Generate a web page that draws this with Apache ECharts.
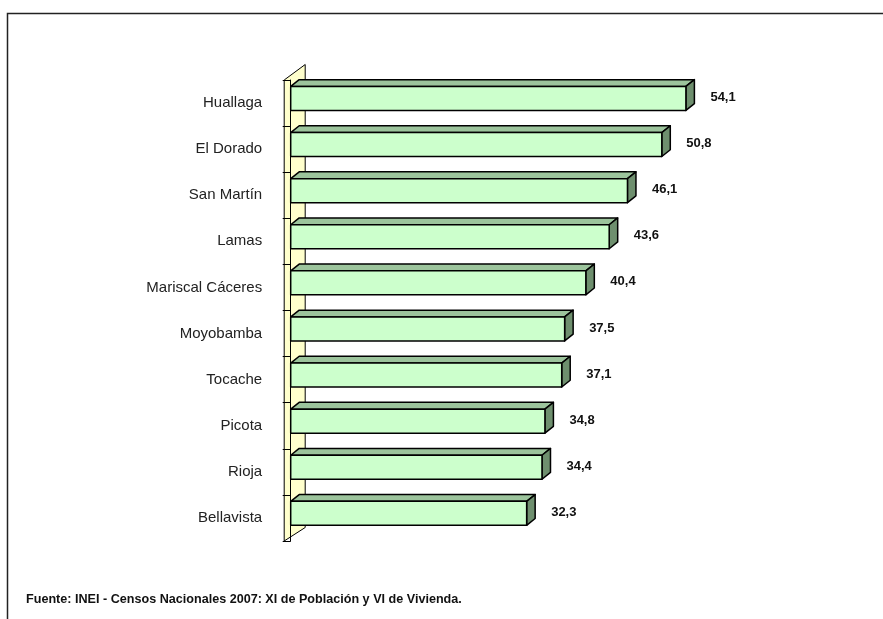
<!DOCTYPE html>
<html><head><meta charset="utf-8">
<script src="https://cdn.jsdelivr.net/npm/echarts@6/dist/echarts.min.js"></script>
<style>html,body{margin:0;padding:0;background:#fff}#c{width:883px;height:619px}</style>
</head><body><div id="c"></div>
<script>
const categories = ["Huallaga","El Dorado","San Martín","Lamas","Mariscal Cáceres","Moyobamba","Tocache","Picota","Rioja","Bellavista"];
const values = [54.1, 50.8, 46.1, 43.6, 40.4, 37.5, 37.1, 34.8, 34.4, 32.3];
const sourceNote = "Fuente: INEI - Censos Nacionales 2007: XI de Población y VI de Vivienda.";

const FONT = '"Liberation Sans Narrow","Arial Narrow","Liberation Sans",Arial,sans-serif';
const chart = echarts.init(document.getElementById('c'), null, {renderer:'canvas'});

const DX = 8.5, DY = 6.8;

function renderBar(params, api){
  const idx = api.value(1);
  const val = api.value(0);
  const p0 = api.coord([0, idx]);
  const p1 = api.coord([val, idx]);
  const band = api.size([0,1])[1];
  const c = p0[1];
  const top = c - band*0.36;
  const bot = c + band*0.16;
  const x0 = p0[0], x1 = p1[0];
  const stroke = {stroke:'#000', lineWidth:1.5, lineJoin:'round'};
  const labelText = val.toFixed(1).replace('.', ',');
  return {type:'group', children:[
    {type:'polygon', shape:{points:[[x0,top],[x0+DX,top-DY],[x1+DX,top-DY],[x1,top]]}, style:Object.assign({fill:'#9cc49c'},stroke)},
    {type:'polygon', shape:{points:[[x1,top],[x1+DX,top-DY],[x1+DX,bot-DY],[x1,bot]]}, style:Object.assign({fill:'#6e8f6e'},stroke)},
    {type:'rect', shape:{x:x0,y:top,width:x1-x0,height:bot-top}, style:Object.assign({fill:'#ccffcc'},stroke)},
    {type:'text', style:{text:labelText, x:x1+DX+16, y:(top+bot)/2 - 1, textVerticalAlign:'middle', textAlign:'left', font:'bold 13px '+FONT, fill:'#111'}}
  ]};
}

function renderWall(params, api){
  const cs = params.coordSys;
  const ax = cs.x - 6.5, w = 21, d = 15.5;
  return {type:'polygon', shape:{points:[[ax, cs.y],[ax+w, cs.y-d],[ax+w, cs.y+cs.height-d+2],[ax, cs.y+cs.height]]},
    style:{fill:'#ffffcc', stroke:'#000', lineWidth:1}};
}

chart.setOption({
  animation:false,
  backgroundColor:'#fff',
  grid:{left:290.7, right:154, top:80, bottom:78, containLabel:false},
  xAxis:{type:'value', min:0, max:60, show:false},
  yAxis:{type:'category', inverse:true, data:categories, offset:6.5,
    axisLine:{show:true, lineStyle:{color:'#000', width:1}},
    axisTick:{show:true, length:8, lineStyle:{color:'#000'}},
    axisLabel:{margin:22, color:'#222', fontSize:15, fontFamily:FONT, padding:[0,0,4,0]},
    z:3},
  series:[
    {type:'custom', renderItem:renderWall, data:[[0,0]], encode:{x:0,y:1}, z:1, silent:true},
    {type:'custom', renderItem:renderBar, data:values.map((v,i)=>[v,i]), encode:{x:0,y:1}, z:4}
  ],
  graphic:[
    {type:'rect', shape:{x:7.5, y:13.5, width:900, height:640}, style:{fill:'none', stroke:'#222', lineWidth:1.5}, z:0},
    {type:'text', left:26, top:593, style:{text:sourceNote, font:'bold 12.6px '+FONT, fill:'#111'}}
  ]
});
</script></body></html>
